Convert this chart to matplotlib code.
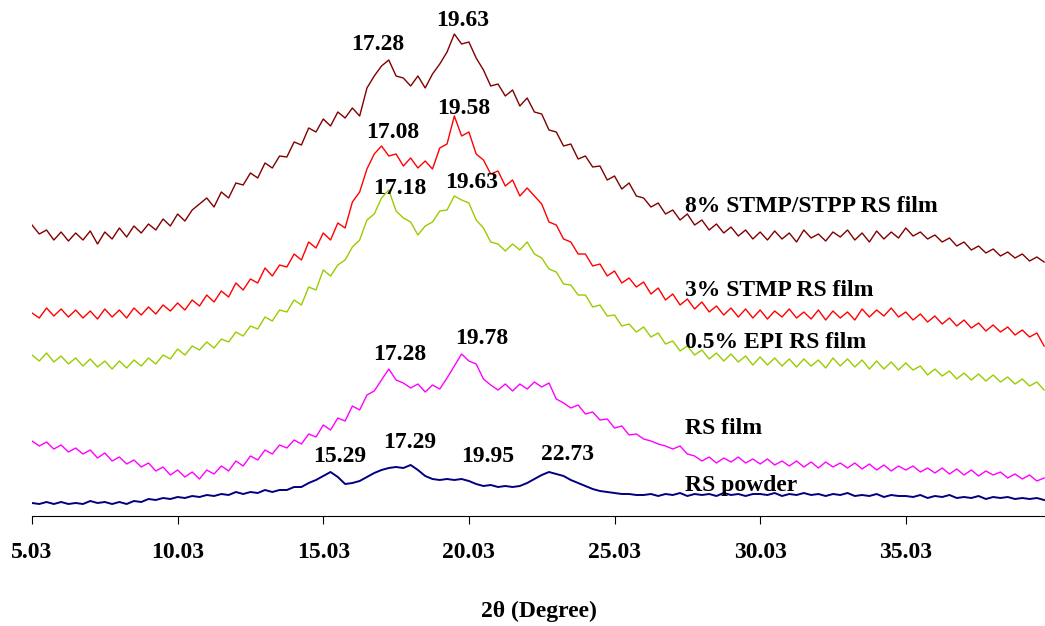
import matplotlib
matplotlib.use("Agg")
import matplotlib.pyplot as plt
import numpy as np

plt.rcParams["font.family"] = ["Liberation Serif", "DejaVu Serif"]
plt.rcParams["font.weight"] = "bold"

# 2-theta grid (degrees), 0.25 deg step
X_START = 5.03
X_STEP = 0.25

# intensities (a.u., offset traces)
stpp_8 = [
    291, 282, 286, 276, 284, 275, 283, 276, 285, 272, 284, 277, 288, 279, 290, 283,
    292, 286, 297, 290, 302, 295, 306, 312, 318, 309, 324, 318, 333, 331, 343, 338,
    353, 348, 360, 359, 374, 371, 388, 384, 397, 390, 404, 398, 408, 400, 428, 440,
    450, 456, 440, 438, 430, 440, 428, 442, 452, 464, 482, 472, 474, 458, 446, 430,
    432, 420, 426, 410, 418, 404, 402, 386, 384, 370, 372, 357, 360, 349, 350, 336,
    340, 327, 333, 320, 318, 309, 313, 302, 306, 296, 302, 291, 296, 286, 292, 283,
    289, 280, 286, 277, 284, 276, 285, 277, 283, 274, 286, 278, 282, 275, 284, 279,
    286, 276, 283, 274, 285, 277, 284, 278, 288, 280, 284, 277, 281, 274, 278, 270,
    274, 266, 270, 263, 267, 260, 264, 258, 262, 255, 259, 254,
]
stmp_3 = [
    203, 198, 208, 200, 207, 199, 206, 198, 205, 197, 207, 199, 206, 198, 208, 201,
    209, 202, 211, 205, 213, 206, 216, 210, 221, 214, 225, 219, 233, 226, 237, 233,
    248, 240, 251, 249, 262, 256, 274, 268, 283, 276, 293, 288, 314, 324, 347, 362,
    370, 360, 362, 350, 358, 348, 355, 347, 368, 372, 400, 380, 384, 362, 356, 342,
    345, 330, 336, 320, 328, 320, 312, 294, 291, 277, 274, 262, 262, 250, 252, 240,
    245, 233, 238, 229, 234, 222, 228, 216, 222, 211, 217, 207, 214, 204, 210, 201,
    208, 199, 207, 198, 206, 197, 205, 199, 207, 198, 204, 197, 206, 196, 205, 198,
    204, 196, 207, 199, 206, 200, 208, 199, 204, 196, 202, 194, 200, 192, 198, 190,
    196, 188, 193, 185, 191, 184, 189, 181, 186, 179, 183, 170,
]
epi_05 = [
    161, 155, 163, 154, 160, 152, 158, 150, 157, 149, 155, 147, 155, 148, 156, 150,
    158, 152, 161, 157, 167, 161, 170, 166, 174, 168, 177, 174, 184, 180, 190, 187,
    199, 195, 206, 204, 216, 211, 229, 226, 246, 240, 251, 256, 269, 276, 296, 302,
    318, 326, 305, 298, 294, 281, 290, 294, 305, 306, 320, 316, 313, 296, 288, 274,
    272, 265, 272, 266, 274, 262, 258, 247, 244, 232, 231, 221, 221, 209, 211, 200,
    201, 190, 192, 184, 189, 179, 183, 172, 175, 165, 170, 161, 166, 157, 163, 155,
    162, 154, 160, 151, 159, 151, 158, 150, 157, 149, 157, 150, 156, 148, 158, 150,
    157, 149, 156, 147, 155, 147, 154, 146, 153, 146, 150, 141, 147, 140, 145, 137,
    143, 136, 142, 135, 141, 134, 139, 132, 137, 130, 134, 126,
]
rs_film = [
    75, 70, 74, 67, 71, 64, 68, 62, 66, 58, 63, 55, 59, 52, 56, 49,
    53, 45, 49, 41, 46, 39, 44, 37, 46, 42, 50, 45, 55, 50, 60, 56,
    66, 62, 71, 68, 76, 72, 82, 79, 91, 86, 98, 95, 110, 106, 121, 125,
    136, 147, 136, 133, 128, 132, 124, 131, 127, 138, 150, 162, 155, 152, 137, 131,
    126, 132, 125, 132, 127, 134, 129, 133, 117, 113, 108, 111, 102, 104, 96, 97,
    88, 90, 81, 82, 77, 75, 72, 70, 67, 70, 62, 60, 55, 59, 53, 58,
    54, 59, 53, 57, 52, 57, 51, 55, 50, 55, 49, 54, 48, 54, 49, 53,
    48, 53, 47, 52, 46, 51, 45, 50, 46, 50, 44, 48, 43, 48, 42, 47,
    41, 46, 40, 45, 41, 44, 38, 42, 37, 41, 35, 38,
]
rs_powder = [
    13, 12, 14, 12, 14, 12, 13, 12, 15, 13, 14, 12, 14, 12, 15, 14,
    17, 16, 18, 17, 19, 18, 20, 19, 21, 20, 22, 21, 24, 22, 24, 23,
    26, 24, 26, 26, 29, 29, 33, 36, 40, 44, 39, 32, 33, 35, 39, 43,
    46, 48, 49, 48, 51, 46, 40, 37, 36, 37, 36, 37, 35, 32, 30, 31,
    29, 30, 29, 30, 33, 37, 41, 44, 42, 40, 36, 33, 30, 27, 25, 24,
    23, 22, 22, 21, 21, 22, 20, 22, 21, 23, 20, 22, 21, 22, 20, 23,
    21, 22, 20, 22, 22, 21, 23, 20, 22, 21, 23, 21, 22, 20, 22, 21,
    23, 20, 21, 20, 22, 19, 21, 20, 20, 19, 21, 18, 20, 19, 21, 18,
    19, 18, 20, 17, 19, 18, 19, 17, 18, 17, 18, 16,
]

series = [
    ("8% STMP/STPP RS film", "#800000", stpp_8),
    ("3% STMP RS film", "#ff0000", stmp_3),
    ("0.5% EPI RS film", "#99cc00", epi_05),
    ("RS film", "#ff00ff", rs_film),
    ("RS powder", "#000080", rs_powder),
]

# curve names placed at right, (2theta, intensity)
name_pos = [(27.45, 309), (27.45, 226), (27.45, 173), (27.45, 88), (27.45, 31)]

# peak annotations: (label, 2theta, intensity)
peaks = [
    ("17.28", 16.91, 472), ("19.63", 19.83, 496),
    ("17.08", 17.42, 383), ("19.58", 19.86, 408),
    ("17.18", 17.66, 328), ("19.63", 20.13, 333),
    ("17.28", 17.66, 161), ("19.78", 20.48, 178),
    ("15.29", 15.60, 59), ("17.29", 18.01, 73),
    ("19.95", 20.68, 60), ("22.73", 23.40, 61),
]

xticks = [5.03, 10.03, 15.03, 20.03, 25.03, 30.03, 35.03]
FS = 17

fig = plt.figure(figsize=(10.45, 6.26), dpi=100)
ax = fig.add_axes([32 / 1045, 110 / 626, 1013 / 1045, 516 / 626])

for (name, color, vals), (tx, ty) in zip(series, name_pos):
    x = X_START + X_STEP * np.arange(len(vals))
    lw = 1.4 if name == "RS powder" else 1.0
    ax.plot(x, vals, color=color, lw=lw)
    ax.text(tx, ty, name, fontsize=FS, fontweight="bold", va="center", ha="left")

for lbl, px, py in peaks:
    ax.text(px, py, lbl, fontsize=FS, fontweight="bold", ha="center", va="center")

ax.set_xlim(5.03, 39.81)
ax.set_ylim(0, 516)
ax.set_xticks(xticks)
ax.set_xticklabels([f"{t:.2f}" for t in xticks], fontsize=FS, fontweight="bold")
ax.set_yticks([])
ax.tick_params(axis="x", direction="out", length=6, width=0.8, pad=13)
for s in ["top", "right", "left"]:
    ax.spines[s].set_visible(False)
ax.spines["bottom"].set_linewidth(0.8)
ax.set_xlabel("2θ (Degree)", fontsize=FS, fontweight="bold", labelpad=27)

fig.savefig("out.png", dpi=100)
